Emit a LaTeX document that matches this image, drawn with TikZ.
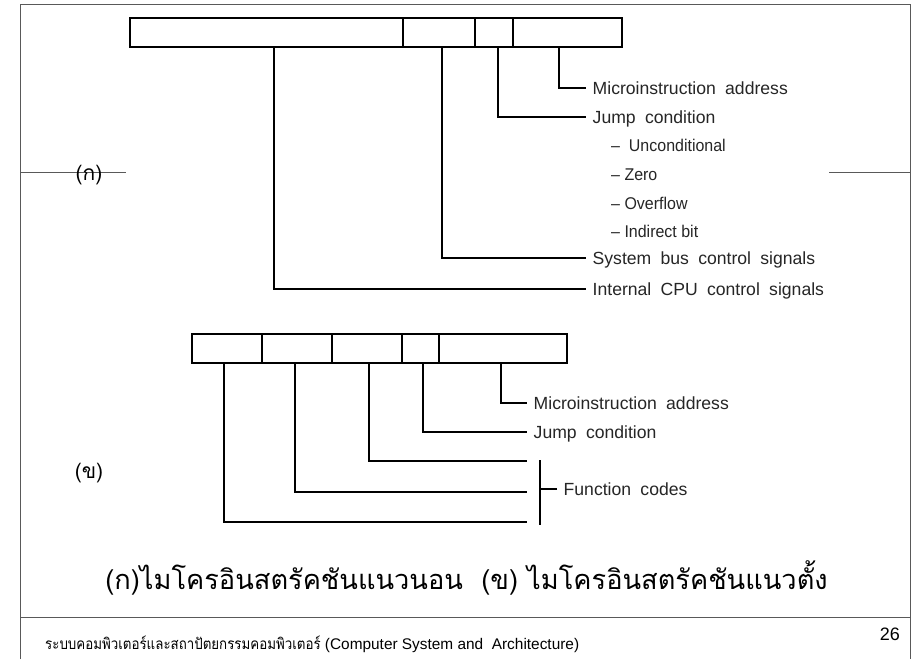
\documentclass[tikz,border=0pt]{standalone}
\usepackage{fontspec}
\setmainfont{Liberation Sans}
\newfontfamily\labfont[WordSpace=1.9]{Liberation Sans}
\newfontfamily\subfont[FakeStretch=0.94]{Liberation Sans}
\newfontfamily\thaifont[Script=Thai]{Loma}
\newfontfamily\thaifootfont[Script=Thai,FakeStretch=0.865]{Loma}
\begin{document}
\begin{tikzpicture}[x=1pt,y=-1pt,
  frameline/.style={draw=black!65, line width=1pt},
  field/.style={draw=black, line width=1.8pt, minimum height=29pt, inner sep=0pt,
                outer sep=0pt, anchor=north west},
  conn/.style={draw=black, line width=1.8pt},
  lab/.style={anchor=west, inner xsep=6.5pt, inner ysep=0pt, text height=12.6pt,
              text depth=0pt, text=black!85, font=\labfont\fontsize{17.6}{20}\selectfont},
  subitem/.style={anchor=west, inner sep=0pt, text height=12.4pt, text depth=0pt,
              text=black!85, font=\subfont\fontsize{17}{20}\selectfont},
  part/.style={anchor=base, inner sep=0pt, font=\thaifont\fontsize{21}{25}\selectfont}]
\useasboundingbox (0,0) rectangle (913,659);
\fill[white] (0,0) rectangle (913,659);

% slide frame
\draw[frameline] (20,659) -- (20,4) -- (910,4) -- (910,659);
\draw[frameline] (20,617) -- (910,617);
\draw[frameline] (20,172) -- (126,172);
\draw[frameline] (829,172) -- (910,172);

% (a) horizontal microinstruction
\node[part] (ka) at (89,180) {(ก)};
\node[field, minimum width=273pt] (t1) at (130,18) {};
\node[field, minimum width=72pt] (t2) at (t1.north east) {};
\node[field, minimum width=38pt] (t3) at (t2.north east) {};
\node[field, minimum width=109pt] (t4) at (t3.north east) {};

\node[lab] (lmia) at (586,88) {Microinstruction address};
\node[lab] (ljc) at (586,117) {Jump condition};
\node[subitem] (s1) at (611,145) {– \ Unconditional};
\node[subitem] (s2) at (611,174) {– Zero};
\node[subitem] (s3) at (611,203) {– Overflow};
\node[subitem] (s4) at (611,231) {– Indirect bit};
\node[lab] (lsys) at (586,258) {System bus control signals};
\node[lab] (lint) at (586,289) {Internal CPU control signals};

\draw[conn] ([xshift=-8.5pt]t4.south) |- (lmia.west);
\draw[conn] ([xshift=4pt]t3.south) |- (ljc.west);
\draw[conn] ([xshift=3pt]t2.south) |- (lsys.west);
\draw[conn] ([xshift=7.5pt]t1.south) |- (lint.west);

% (b) vertical microinstruction
\node[part] (kha) at (89,478) {(ข)};
\node[field, minimum width=70pt] (b1) at (192,334) {};
\node[field, minimum width=70pt] (b2) at (b1.north east) {};
\node[field, minimum width=70pt] (b3) at (b2.north east) {};
\node[field, minimum width=37pt] (b4) at (b3.north east) {};
\node[field, minimum width=128pt] (b5) at (b4.north east) {};

\node[lab] (bmia) at (527,403) {Microinstruction address};
\node[lab] (bjc) at (527,432) {Jump condition};
\node[lab] (fc) at (557,489) {Function codes};
\coordinate (bt) at (540,460);
\coordinate (bb) at (540,525);
\coordinate (e1) at (527,522);
\coordinate (e2) at (527,492);
\coordinate (e3) at (527,461);

\draw[conn] ([xshift=-2pt]b5.south) |- (bmia.west);
\draw[conn] ([xshift=2.5pt]b4.south) |- (bjc.west);
\draw[conn] ([xshift=2pt]b3.south) |- (e3);
\draw[conn] ([xshift=-2pt]b2.south) |- (e2);
\draw[conn] ([xshift=-3pt]b1.south) |- (e1);
\draw[conn] (bt) -- (bb);
\draw[conn] (fc.west) -- (fc.west -| bt);

% caption and footer
\node[anchor=base, inner sep=0pt, font=\thaifont\fontsize{27.2}{32}\selectfont] (title) at (466.5,589)
  {(ก)ไมโครอินสตรัคชันแนวนอน\ \ (ข) ไมโครอินสตรัคชันแนวตั้ง};
\node[anchor=base west, inner sep=0pt, font=\fontsize{15.4}{18}\selectfont] (foot) at (45,649)
  {{\thaifootfont ระบบคอมพิวเตอร์และสถาปัตยกรรมคอมพิวเตอร์} (Computer System and\ \ Architecture)};
\node[anchor=base east, inner sep=0pt, font=\fontsize{18}{21}\selectfont] (page) at (900,640) {26};
\end{tikzpicture}
\end{document}
